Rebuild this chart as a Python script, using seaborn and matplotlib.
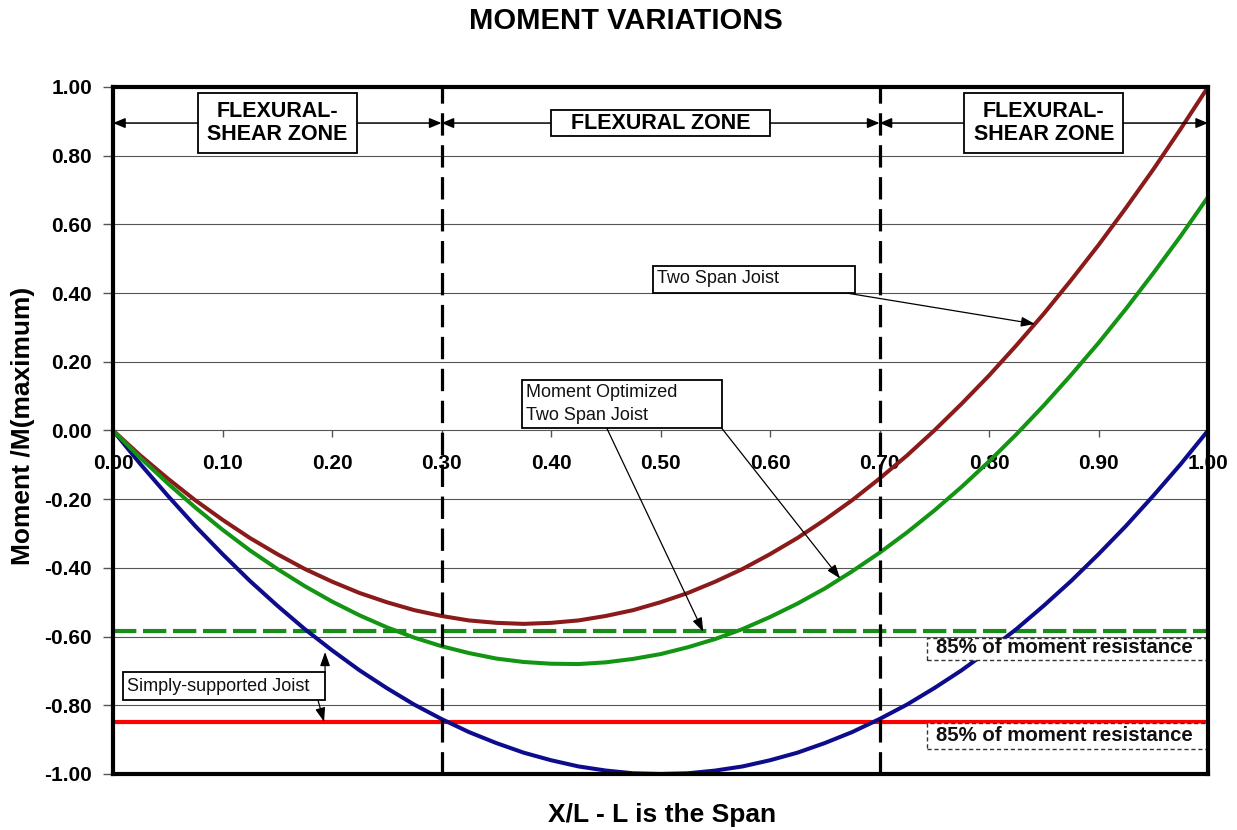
import matplotlib
matplotlib.use("Agg")
import matplotlib.pyplot as plt
from matplotlib.patches import Rectangle
import pandas as pd
import seaborn as sns

# Position along the span, X/L
x_over_l = [0.000, 0.025, 0.050, 0.075, 0.100, 0.125, 0.150, 0.175, 0.200, 0.225,
            0.250, 0.275, 0.300, 0.325, 0.350, 0.375, 0.400, 0.425, 0.450, 0.475,
            0.500, 0.525, 0.550, 0.575, 0.600, 0.625, 0.650, 0.675, 0.700, 0.725,
            0.750, 0.775, 0.800, 0.825, 0.850, 0.875, 0.900, 0.925, 0.950, 0.975,
            1.000]

# Normalised moments M / M(maximum)
simply_supported = [0.000, -0.098, -0.190, -0.278, -0.360, -0.438, -0.510, -0.578, -0.640, -0.698,
                    -0.750, -0.798, -0.840, -0.878, -0.910, -0.938, -0.960, -0.978, -0.990, -0.998,
                    -1.000, -0.998, -0.990, -0.978, -0.960, -0.938, -0.910, -0.878, -0.840, -0.798,
                    -0.750, -0.698, -0.640, -0.578, -0.510, -0.438, -0.360, -0.278, -0.190, -0.098,
                    0.000]
two_span = [0.000, -0.073, -0.140, -0.203, -0.260, -0.313, -0.360, -0.403, -0.440, -0.473,
            -0.500, -0.523, -0.540, -0.553, -0.560, -0.563, -0.560, -0.553, -0.540, -0.523,
            -0.500, -0.473, -0.440, -0.403, -0.360, -0.313, -0.260, -0.203, -0.140, -0.073,
            0.000, 0.078, 0.160, 0.248, 0.340, 0.438, 0.540, 0.648, 0.760, 0.878,
            1.000]
optimized_two_span = [0.000, -0.080, -0.154, -0.224, -0.289, -0.349, -0.403, -0.453, -0.498, -0.538,
                      -0.573, -0.603, -0.628, -0.648, -0.664, -0.674, -0.679, -0.680, -0.675, -0.665,
                      -0.651, -0.631, -0.607, -0.578, -0.543, -0.504, -0.460, -0.410, -0.356, -0.297,
                      -0.233, -0.164, -0.090, -0.011, 0.073, 0.162, 0.255, 0.354, 0.458, 0.566,
                      0.680]

# 85% of moment resistance levels
resistance_optimized = -0.585
resistance_simple = -0.85

# Zone boundaries and labels
zone_edges = [0.0, 0.30, 0.70, 1.0]
zone_labels = ["FLEXURAL-\nSHEAR ZONE", "FLEXURAL ZONE", "FLEXURAL-\nSHEAR ZONE"]

x_ticks = [0.0, 0.1, 0.2, 0.3, 0.4, 0.5, 0.6, 0.7, 0.8, 0.9, 1.0]
y_ticks = [-1.0, -0.8, -0.6, -0.4, -0.2, 0.0, 0.2, 0.4, 0.6, 0.8, 1.0]

sns.set_theme(style="white")
plt.rcParams["font.family"] = ["Liberation Sans", "DejaVu Sans"]
plt.rcParams.update({"text.color": "black", "axes.labelcolor": "black",
                     "xtick.color": "black", "ytick.color": "black"})

fig = plt.figure(figsize=(12.37, 8.30), dpi=100)
ax = fig.add_axes([0.0914, 0.0675, 0.8852, 0.8277])

GRID = "#555555"
ax.set_xlim(0, 1)
ax.set_ylim(-1, 1)
ax.set_yticks(y_ticks)
ax.set_yticklabels([f"{v:.2f}" for v in y_ticks], fontweight="bold", fontsize=15)
ax.set_xticks(x_ticks)
ax.tick_params(axis="x", bottom=False, labelbottom=False)
ax.tick_params(axis="y", left=True, direction="out", length=7, width=1, color=GRID,
               labelcolor="black", pad=8)
ax.grid(axis="y", color=GRID, linewidth=0.8)
ax.grid(axis="x", visible=False)
for sp in ax.spines.values():
    sp.set_color("black")
    sp.set_linewidth(3)
    sp.set_zorder(6)

# Tick labels hanging below the zero line
sec = ax.secondary_xaxis(0.5)
sec.set_xticks(x_ticks)
sec.set_xticklabels([f"{v:.2f}" for v in x_ticks], fontweight="bold", fontsize=15)
sec.xaxis.set_ticks_position("bottom")
sec.xaxis.set_label_position("bottom")
sec.tick_params(axis="x", bottom=True, labelbottom=True, top=False, labeltop=False,
                direction="out", length=5, width=1, color=GRID, labelcolor="black", pad=12)
for sp in sec.spines.values():
    sp.set_visible(False)

# Resistance levels
ax.axhline(resistance_optimized, color="#1a8c1a", linewidth=3, dashes=(5.6, 1.6), zorder=2)
ax.axhline(resistance_simple, color="#ff0000", linewidth=3, zorder=2)

# Moment curves
curves = pd.DataFrame({
    "x": x_over_l * 3,
    "M": simply_supported + two_span + optimized_two_span,
    "joist": (["simple"] * len(x_over_l) + ["two"] * len(x_over_l)
              + ["optimized"] * len(x_over_l)),
})
sns.lineplot(data=curves, x="x", y="M", hue="joist",
             palette={"simple": "#0c0c8c", "two": "#8b1a1a", "optimized": "#139413"},
             linewidth=2.9, legend=False, sort=False, ax=ax, zorder=3)
ax.set_xlabel("")
ax.set_ylabel("")

# Zone boundaries
for xb in zone_edges[1:-1]:
    ax.axvline(xb, color="black", linewidth=2.3, dashes=(7, 3), zorder=4)

# Zone headers with double arrows
for x0, x1, lab in zip(zone_edges[:-1], zone_edges[1:], zone_labels):
    ax.annotate("", xy=(x0, 0.895), xytext=(x1, 0.895),
                arrowprops=dict(arrowstyle="<|-|>,head_length=0.6,head_width=0.25",
                                color="black", lw=1.1, shrinkA=0, shrinkB=0),
                zorder=5)
    two_line = "\n" in lab
    ax.text((x0 + x1) / 2, 0.895, lab, ha="center", va="center",
            fontsize=15.5, fontweight="bold", linespacing=1.15, zorder=6,
            bbox=dict(boxstyle=f"square,pad={0.43 if two_line else 0.9}",
                      mutation_aspect=0.8 if two_line else 0.12,
                      facecolor="white", edgecolor="black", linewidth=1.3))

# Callout boxes
def callout(x0, y0, x1, y1, text, tx, ty, size, dashed=False, bold=False):
    ax.add_patch(Rectangle((x0, y0), x1 - x0, y1 - y0, facecolor="white",
                           edgecolor="#333333" if dashed else "black",
                           linewidth=1.0 if dashed else 1.3,
                           linestyle=(0, (3, 2)) if dashed else "-",
                           zorder=5, clip_on=True))
    ax.text(tx, ty, text, ha="left", va="center", fontsize=size,
            fontweight="bold" if bold else "normal", linespacing=1.4,
            color="#111111", zorder=6)

arrow_kw = dict(arrowstyle="-|>,head_length=0.7,head_width=0.25", color="black",
                lw=0.9, shrinkA=0, shrinkB=0)

callout(0.493, 0.399, 0.678, 0.480, "Two Span Joist", 0.497, 0.442, 13)
ax.annotate("", xy=(0.842, 0.31), xytext=(0.672, 0.399), arrowprops=arrow_kw, zorder=5)

callout(0.3735, 0.006, 0.556, 0.1456, "Moment Optimized\nTwo Span Joist", 0.377, 0.077, 13)
ax.annotate("", xy=(0.539, -0.586), xytext=(0.451, 0.006), arrowprops=arrow_kw, zorder=5)
ax.annotate("", xy=(0.664, -0.431), xytext=(0.556, 0.006), arrowprops=arrow_kw, zorder=5)

callout(0.0091, -0.786, 0.1936, -0.7045, "Simply-supported Joist", 0.0128, -0.745, 13)
ax.annotate("", xy=(0.1936, -0.645), xytext=(0.1936, -0.7045), arrowprops=arrow_kw, zorder=5)
ax.annotate("", xy=(0.1927, -0.848), xytext=(0.1872, -0.786), arrowprops=arrow_kw, zorder=5)

callout(0.743, -0.667, 1.02, -0.6055, "85% of moment resistance", 0.7516, -0.632, 14.7,
        dashed=True, bold=True)
callout(0.743, -0.926, 1.02, -0.853, "85% of moment resistance", 0.7516, -0.888, 14.7,
        dashed=True, bold=True)

# Titles
fig.text(0.5057, 0.975, "MOMENT VARIATIONS", ha="center", va="center",
         fontsize=21, fontweight="bold")
fig.text(0.535, 0.018, "X/L - L is the Span", ha="center", va="center",
         fontsize=19, fontweight="bold")
fig.text(0.0185, 0.487, "Moment /M(maximum)", ha="center", va="center",
         rotation=90, fontsize=19, fontweight="bold")

fig.savefig("out.png", dpi=100)
